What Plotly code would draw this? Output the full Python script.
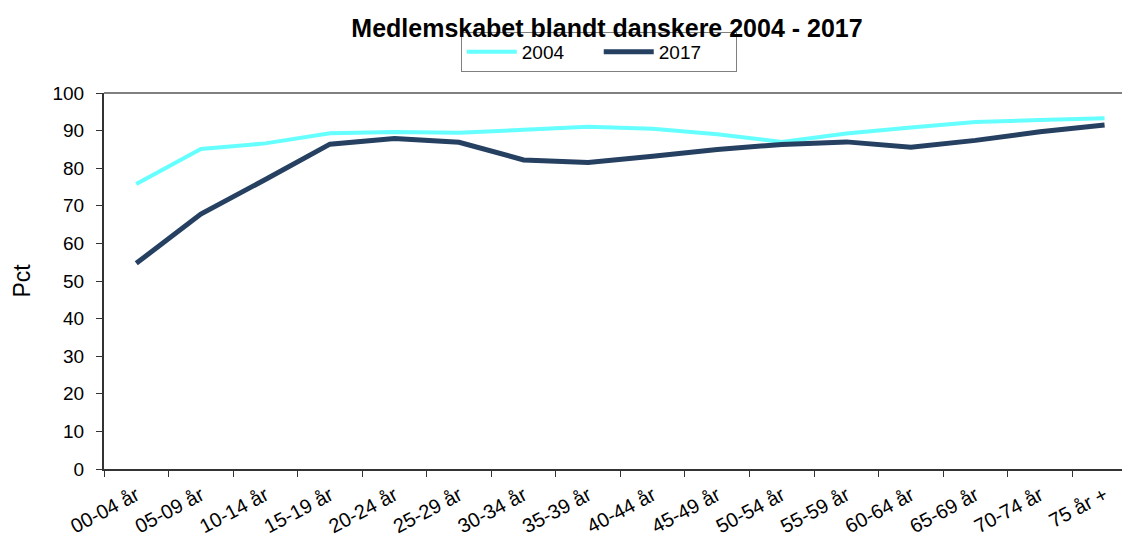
import plotly.graph_objects as go

age_groups = [
    "00-04 år", "05-09 år", "10-14 år", "15-19 år", "20-24 år", "25-29 år",
    "30-34 år", "35-39 år", "40-44 år", "45-49 år", "50-54 år", "55-59 år",
    "60-64 år", "65-69 år", "70-74 år", "75 år +",
]
pct_2004 = [75.8, 85.1, 86.6, 89.3, 89.6, 89.4, 90.2, 91.0, 90.5, 89.0, 87.0, 89.2, 90.8, 92.3, 92.8, 93.3]
pct_2017 = [54.7, 67.8, 77.0, 86.4, 87.9, 86.9, 82.2, 81.5, 83.2, 85.0, 86.3, 87.0, 85.6, 87.4, 89.7, 91.5]

FONT = "Liberation Sans, Arial, sans-serif"

fig = go.Figure()
fig.add_trace(go.Scatter(x=age_groups, y=pct_2004, name="2004", mode="lines",
                         line=dict(color="#66FFFF", width=4)))
fig.add_trace(go.Scatter(x=age_groups, y=pct_2017, name="2017", mode="lines",
                         line=dict(color="#254061", width=5)))

# grey frame line along the top of the plot area
fig.add_shape(type="line", xref="paper", yref="paper", x0=0, x1=1, y0=1, y1=1,
              line=dict(color="#808080", width=2))

fig.update_layout(
    width=1122, height=538,
    margin=dict(l=104, r=0, t=93, b=69),
    paper_bgcolor="white", plot_bgcolor="white",
    font=dict(family=FONT, size=19, color="black"),
    title=dict(text="<b>Medlemskabet blandt danskere 2004 - 2017</b>",
               x=607 / 1122, xanchor="center", y=0.948, yanchor="middle",
               font=dict(size=25, color="black")),
    legend=dict(orientation="h", x=0.486, xanchor="center", y=1.056, yanchor="bottom",
                bordercolor="#808080", borderwidth=1, font=dict(size=19),
                itemwidth=50, entrywidth=72, tracegroupgap=0),
    showlegend=True,
)
fig.update_xaxes(
    type="category", range=[-0.5, 15.27], automargin=False,
    showline=True, linecolor="#333333", linewidth=2,
    ticks="outside", tickson="boundaries", ticklen=6, tickcolor="#333333",
    tickangle=-28, tickfont=dict(size=20), ticklabelstandoff=5,
    showgrid=False, zeroline=False,
)
fig.update_yaxes(
    range=[0, 100], dtick=10, automargin=False,
    showline=True, linecolor="#333333", linewidth=2,
    ticks="outside", ticklen=6, tickcolor="#333333",
    ticklabelstandoff=8, showgrid=False, zeroline=False,
    title=dict(text="Pct", standoff=15),
)

# drop the browser's default body margin so the figure sits at the page corner
fig.write_html("out.html", config={"displayModeBar": False},
               post_script="document.body.style.margin = '0';")
